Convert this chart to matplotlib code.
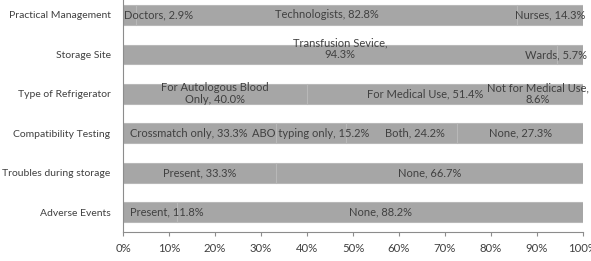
import matplotlib
matplotlib.use("Agg")
import matplotlib.pyplot as plt

plt.rcParams['font.family'] = ['Lato', 'DejaVu Sans']

# categories, top to bottom
categories = ["Practical Management", "Storage Site", "Type of Refrigerator",
              "Compatibility Testing", "Troubles during storage", "Adverse Events"]

# segment values (%) for each category
values = [
    [2.9, 82.8, 14.3],
    [94.3, 5.7],
    [40.0, 51.4, 8.6],
    [33.3, 15.2, 24.2, 27.3],
    [33.3, 66.7],
    [11.8, 88.2],
]

# segment names
names = [
    ["Doctors", "Technologists", "Nurses"],
    ["Transfusion Sevice,\n", "Wards"],
    ["For Autologous Blood\nOnly", "For Medical Use", "Not for Medical Use,\n"],
    ["Crossmatch only", "ABO typing only", "Both", "None"],
    ["Present", "None"],
    ["Present", "None"],
]

# manual label nudges (x in %, y in bar units)
label_dx = [
    [6.2, 0, 0],
    [0, -3.0],
    [0, 0, -5.5],
    [-2.3, 0, 2.9, 0],
    [0, 0],
    [3.7, 0],
]
label_dy = [
    [0, 0, 0],
    [-0.14, 0],
    [0, 0, 0],
    [0, 0, 0, 0],
    [0, 0],
    [0, 0],
]

fig = plt.figure(figsize=(5.91, 2.61), dpi=100)
ax = fig.add_axes([123 / 591, 29 / 261, 460 / 591, 236.75 / 261])

bar_color = '#a6a6a6'
text_color = '#404040'

for i, (cat, vals) in enumerate(zip(categories, values)):
    left = 0
    for j, v in enumerate(vals):
        ax.barh(i, v, left=left, height=0.5, color=bar_color,
                edgecolor='#b8b8b8', linewidth=0.8)
        nm = names[i][j]
        if nm.endswith("\n"):
            lbl = f"{nm}{v:.1f}%"
        else:
            lbl = f"{nm}, {v:.1f}%"
        ax.text(left + v / 2 + label_dx[i][j], i + label_dy[i][j], lbl,
                ha='center', va='center', fontsize=8.0, color=text_color,
                linespacing=1.1)
        left += v

ax.set_ylim(len(categories) - 0.5, -0.5)
ax.set_xlim(0, 100)
ax.set_yticks(range(len(categories)))
ax.set_yticklabels(categories, fontsize=7.5, color=text_color)
ax.set_xticks(range(0, 101, 10))
ax.set_xticklabels([f"{t}%" for t in range(0, 101, 10)], fontsize=8.2,
                   color=text_color)
ax.tick_params(axis='y', length=0, pad=9)
ax.tick_params(axis='x', length=3, color='#8c8c8c', pad=5)

for s in ['top', 'right']:
    ax.spines[s].set_visible(False)
for s in ['left', 'bottom']:
    ax.spines[s].set_color('#8c8c8c')
    ax.spines[s].set_linewidth(0.8)

fig.savefig("out.png", dpi=100)
